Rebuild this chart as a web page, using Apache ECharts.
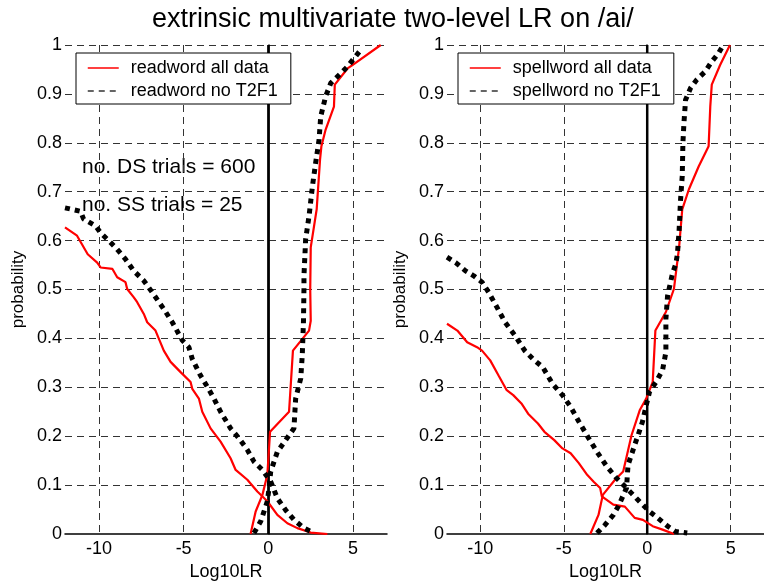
<!DOCTYPE html>
<html>
<head>
<meta charset="utf-8">
<script src="https://cdn.jsdelivr.net/npm/echarts@6/dist/echarts.min.js"></script>
<style>
  html, body { margin: 0; padding: 0; background: #fff; }
  #chart { width: 764px; height: 586px; }
</style>
</head>
<body>
<div id="chart"></div>
<script>
// ---- data ----
const titleText = 'extrinsic multivariate two-level LR on /ai/';
const xTicks = [-10, -5, 0, 5];
const xRange = [-12, 7];
const yRange = [0, 1];
const zeroLine = [[0, 0], [0, 1]];

const readAllDS = [[-12,0.627],[-11.29,0.610],[-10.66,0.572],[-10.1,0.555],[-9.9,0.545],[-9.2,0.542],[-8.92,0.525],[-8.43,0.515],[-8.33,0.501],[-7.94,0.484],[-7.74,0.474],[-7.35,0.450],[-7.15,0.433],[-6.66,0.416],[-6.17,0.375],[-5.77,0.352],[-5.18,0.331],[-4.59,0.311],[-4.49,0.297],[-4.1,0.277],[-3.9,0.250],[-3.41,0.216],[-2.82,0.189],[-2.23,0.155],[-1.93,0.131],[-1.24,0.111],[-0.65,0.087],[-0.06,0.067],[0.53,0.039],[1.12,0.022],[1.71,0.012],[2.5,0.003],[3.48,0]];
const readAllSS = [[-1.05,0],[-0.75,0.046],[-0.35,0.08],[-0.06,0.121],[0.1,0.209],[1.22,0.25],[1.45,0.375],[2.4,0.416],[2.5,0.436],[2.47,0.50],[2.5,0.586],[2.85,0.664],[3.05,0.766],[3.13,0.793],[3.38,0.827],[3.87,0.874],[3.92,0.919],[4.67,0.952],[4.96,0.959],[6.63,1.0]];
const readNoDS = [[-12,0.667],[-11.09,0.660],[-10.9,0.644],[-10.2,0.630],[-9.9,0.616],[-9.31,0.596],[-8.92,0.582],[-8.43,0.562],[-7.94,0.538],[-7.35,0.518],[-6.85,0.494],[-6.17,0.460],[-5.67,0.433],[-5.08,0.396],[-4.69,0.382],[-4.49,0.358],[-4.0,0.324],[-3.6,0.301],[-3.21,0.277],[-2.82,0.250],[-2.23,0.216],[-1.74,0.196],[-1.24,0.172],[-0.85,0.148],[-0.35,0.131],[0.14,0.107],[0.53,0.073],[1.02,0.049],[1.51,0.029],[2.1,0.012],[2.69,0.002]];
const readNoSS = [[-0.85,0.002],[-0.45,0.026],[-0.06,0.067],[0.04,0.094],[0.14,0.128],[0.53,0.168],[1.02,0.192],[1.51,0.216],[1.61,0.277],[1.91,0.318],[2.0,0.365],[2.07,0.433],[2.1,0.501],[2.1,0.528],[2.2,0.603],[2.4,0.650],[2.6,0.711],[2.79,0.759],[2.99,0.806],[3.09,0.854],[3.38,0.895],[3.68,0.922],[4.27,0.942],[4.67,0.956],[5.45,0.990]];

const spellAllDS = [[-12,0.430],[-11.38,0.416],[-10.79,0.392],[-10.2,0.382],[-9.9,0.375],[-9.41,0.355],[-8.91,0.324],[-8.42,0.294],[-8.03,0.284],[-7.54,0.267],[-7.14,0.246],[-6.55,0.226],[-6.16,0.209],[-5.57,0.192],[-5.08,0.175],[-4.59,0.165],[-4.1,0.145],[-3.6,0.121],[-3.21,0.107],[-2.82,0.094],[-2.72,0.077],[-2.03,0.060],[-1.34,0.056],[-0.75,0.033],[-0.26,0.029],[0.33,0.016],[0.92,0.009],[1.61,0]];
const spellAllSS = [[-3.41,0],[-2.92,0.039],[-2.66,0.08],[-1.93,0.111],[-1.44,0.128],[-0.94,0.202],[-0.45,0.253],[-0.06,0.277],[0.33,0.311],[0.49,0.416],[1.12,0.454],[1.6,0.501],[1.91,0.586],[2.1,0.664],[2.5,0.705],[3.09,0.752],[3.68,0.793],[3.78,0.874],[3.87,0.919],[4.37,0.959],[4.96,1.0]];
const spellNoDS = [[-12,0.566],[-11.48,0.555],[-10.89,0.538],[-10.4,0.528],[-9.9,0.515],[-9.5,0.494],[-9.01,0.464],[-8.52,0.433],[-7.93,0.406],[-7.34,0.375],[-6.85,0.358],[-6.26,0.341],[-5.67,0.307],[-5.08,0.284],[-4.59,0.260],[-4.1,0.230],[-3.51,0.196],[-3.01,0.168],[-2.42,0.138],[-1.83,0.114],[-1.24,0.094],[-0.65,0.073],[0.14,0.046],[0.63,0.033],[1.22,0.016],[1.71,0.005],[2.4,0.002]];
const spellNoSS = [[-3.01,0.002],[-2.52,0.019],[-2.03,0.039],[-1.74,0.056],[-1.24,0.094],[-1.15,0.141],[-0.75,0.182],[-0.55,0.202],[-0.28,0.230],[-0.06,0.263],[0.14,0.291],[0.53,0.311],[0.92,0.335],[1.12,0.372],[1.12,0.413],[1.12,0.440],[1.22,0.487],[1.51,0.532],[1.71,0.552],[1.81,0.572],[1.91,0.620],[2.0,0.684],[2.1,0.732],[2.14,0.800],[2.2,0.840],[2.3,0.888],[2.6,0.912],[2.97,0.929],[3.48,0.946],[3.87,0.966],[4.27,0.983],[4.56,1.0]];

const leftNames = ['readword all data', 'readword no T2F1'];
const rightNames = ['spellword all data', 'spellword no T2F1'];
const annotations = ['no. DS trials = 600', 'no. SS trials = 25'];
const xName = 'Log10LR';
const yName = 'probability';

// ---- styling ----
const FONT = '"Liberation Sans", Arial, Helvetica, sans-serif';
const RED = '#ff0000';
const gridDash = { color: '#333', width: 1, type: [7, 5] };
const hiddenSymbol = { color: 'rgba(0,0,0,0)', borderWidth: 0, opacity: 0 };

function xAxisCfg(gridIndex) {
  return {
    type: 'value', gridIndex, min: xRange[0], max: xRange[1], splitNumber: 4,
    name: xName, nameLocation: 'middle', nameGap: 29,
    nameTextStyle: { fontFamily: FONT, fontSize: 18, color: '#000' },
    axisLine: { show: true, onZero: false, lineStyle: { color: '#000', width: 1.5 } },
    axisTick: { show: false },
    axisLabel: {
      fontFamily: FONT, fontSize: 18, color: '#000', margin: 6,
      showMinLabel: false, showMaxLabel: false,
      formatter: v => (xTicks.indexOf(v) >= 0 ? String(v) : '')
    },
    splitLine: { show: true, showMinLine: false, showMaxLine: false, lineStyle: gridDash }
  };
}
function yAxisCfg(gridIndex) {
  return {
    type: 'value', gridIndex, min: yRange[0], max: yRange[1], interval: 0.1,
    name: yName, nameLocation: 'middle', nameGap: 38, nameRotate: 90,
    nameTextStyle: { fontFamily: FONT, fontSize: 17, color: '#000' },
    axisLine: { show: true, lineStyle: { color: '#000', width: 1.5 } },
    axisTick: { show: false },
    axisLabel: { fontFamily: FONT, fontSize: 18, color: '#000', margin: 3 },
    splitLine: { show: true, showMinLine: false, lineStyle: gridDash }
  };
}
function redSeries(name, data, gi) {
  return { type: 'line', name, data, xAxisIndex: gi, yAxisIndex: gi, symbol: 'none',
    lineStyle: { color: RED, width: 2.2 }, itemStyle: { color: RED }, silent: true, z: 3 };
}
function dotSeries(name, data, gi) {
  return { type: 'line', name, data, xAxisIndex: gi, yAxisIndex: gi, symbol: 'none',
    lineStyle: { color: '#000', width: 5, type: [5, 5], cap: 'butt' }, itemStyle: { color: '#000' },
    silent: true, z: 4 };
}
function zeroSeries(gi) {
  return { type: 'line', data: zeroLine, xAxisIndex: gi, yAxisIndex: gi, symbol: 'none',
    lineStyle: { color: '#000', width: 2.5 }, silent: true, z: 2 };
}
function legendCfg(names, left) {
  return {
    left, top: 53, orient: 'vertical',
    backgroundColor: '#fff', borderColor: '#000', borderWidth: 1, borderRadius: 0,
    padding: [5, 13, 3, 11], itemGap: 3, itemWidth: 31, itemHeight: 14,
    textStyle: { fontFamily: FONT, fontSize: 18, color: '#000', lineHeight: 20, padding: [0, 0, 0, 7] },
    itemStyle: hiddenSymbol,
    data: [
      { name: names[0], itemStyle: hiddenSymbol, lineStyle: { color: RED, width: 1.5 } },
      { name: names[1], itemStyle: hiddenSymbol, lineStyle: { color: '#333', width: 1.5, type: [6, 5] } }
    ],
    selectedMode: false
  };
}

const chart = echarts.init(document.getElementById('chart'), null, { renderer: 'canvas' });
chart.setOption({
  backgroundColor: '#fff',
  animation: false,
  grid: [
    { left: 65, right: 377, top: 45, bottom: 50 },
    { left: 447, right: -4, top: 45, bottom: 50 }
  ],
  xAxis: [xAxisCfg(0), xAxisCfg(1)],
  yAxis: [yAxisCfg(0), yAxisCfg(1)],
  legend: [legendCfg(leftNames, 76), legendCfg(rightNames, 458)],
  graphic: [
    { type: 'text', left: 397 - 245, top: 6, style: { text: titleText, font: '27px ' + FONT, fill: '#000' } },
    { type: 'text', left: 82, top: 157, style: { text: annotations[0], font: '21px ' + FONT, fill: '#000' } },
    { type: 'text', left: 82, top: 195, style: { text: annotations[1], font: '21px ' + FONT, fill: '#000' } }
  ],
  series: [
    zeroSeries(0),
    redSeries(leftNames[0], readAllDS, 0),
    redSeries(leftNames[0], readAllSS, 0),
    dotSeries(leftNames[1], readNoDS, 0),
    dotSeries(leftNames[1], readNoSS, 0),
    zeroSeries(1),
    redSeries(rightNames[0], spellAllDS, 1),
    redSeries(rightNames[0], spellAllSS, 1),
    dotSeries(rightNames[1], spellNoDS, 1),
    dotSeries(rightNames[1], spellNoSS, 1)
  ]
});
</script>
</body>
</html>
